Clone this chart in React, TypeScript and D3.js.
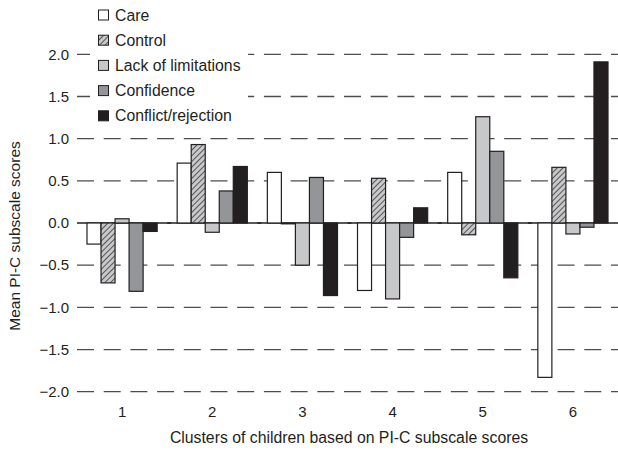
import * as d3 from "d3";
import { useEffect, useRef } from "react";

// chart size
const width = 618;
const height = 450;

// data
const clusters = ["1", "2", "3", "4", "5", "6"];
const subscales = ["Care", "Control", "Lack of limitations", "Confidence", "Conflict/rejection"];
const care = [-0.25, 0.71, 0.6, -0.8, 0.6, -1.83];
const control = [-0.71, 0.93, -0.01, 0.53, -0.14, 0.66];
const lackOfLimitations = [0.05, -0.11, -0.5, -0.9, 1.26, -0.13];
const confidence = [-0.81, 0.38, 0.54, -0.17, 0.85, -0.05];
const conflictRejection = [-0.1, 0.67, -0.86, 0.18, -0.65, 1.91];
const yTicks = [-2, -1.5, -1, -0.5, 0, 0.5, 1, 1.5, 2];

const seriesValues = [care, control, lackOfLimitations, confidence, conflictRejection];
const fills = ["#ffffff", "url(#hatch)", "#c7c8ca", "#939598", "#231f20"];
const ink = "#231f20";
const font = "'Liberation Sans', Arial, sans-serif";

const App = () => {
  const containerRef = useRef<HTMLDivElement>(null);

  useEffect(() => {
    const x = d3.scaleBand().domain(clusters).range([87, 608]).paddingInner(0.222).paddingOuter(0);
    const xs = d3.scaleBand().domain(subscales).range([0, x.bandwidth()]).padding(0);
    const y = d3.scaleLinear().domain([-2, 2]).range([391.7, 54.3]);

    const svg = d3
      .create("svg")
      .attr("width", width)
      .attr("height", height)
      .style("display", "block")
      .style("font-family", font);

    svg.append("rect").attr("width", width).attr("height", height).attr("fill", "#fff");

    // hatch pattern for "Control"
    const pat = svg
      .append("defs")
      .append("pattern")
      .attr("id", "hatch")
      .attr("patternUnits", "userSpaceOnUse")
      .attr("width", 4)
      .attr("height", 4)
      .attr("patternTransform", "rotate(45)");
    pat.append("rect").attr("width", 4).attr("height", 4).attr("fill", "#c7c8ca");
    pat.append("line").attr("x1", 0).attr("y1", 0).attr("x2", 0).attr("y2", 4)
      .attr("stroke", ink).attr("stroke-width", 1.4);

    // dashed gridlines (zero handled separately)
    svg.append("g")
      .selectAll("line")
      .data(yTicks.filter((d) => d !== 0))
      .join("line")
      .attr("x1", 77)
      .attr("x2", width)
      .attr("y1", (d) => y(d))
      .attr("y2", (d) => y(d))
      .attr("stroke", "#4d4d4f")
      .attr("stroke-width", 1.3)
      .attr("stroke-dasharray", "17 9.7");

    // y tick labels
    svg.append("g")
      .selectAll("text")
      .data(yTicks)
      .join("text")
      .attr("x", 69)
      .attr("y", (d) => y(d))
      .attr("dy", "0.35em")
      .attr("text-anchor", "end")
      .attr("font-size", 15)
      .attr("fill", ink)
      .text((d) => d3.format(".1f")(d).replace("-", "\u2013"));

    // bars
    const groups = svg.append("g")
      .selectAll("g")
      .data(clusters)
      .join("g")
      .attr("transform", (d) => `translate(${x(d)},0)`);

    groups.append("line")
      .attr("x1", -10)
      .attr("x2", x.bandwidth() + 14)
      .attr("y1", y(0))
      .attr("y2", y(0))
      .attr("stroke", ink)
      .attr("stroke-width", 1.3);

    groups.selectAll("rect")
      .data((c, i) => subscales.map((s, k) => ({ s, k, v: seriesValues[k][i] })))
      .join("rect")
      .attr("x", (d) => xs(d.s)!)
      .attr("width", xs.bandwidth())
      .attr("y", (d) => Math.min(y(d.v), y(0)))
      .attr("height", (d) => Math.abs(y(d.v) - y(0)))
      .attr("fill", (d) => fills[d.k])
      .attr("stroke", ink)
      .attr("stroke-width", 1.2);

    // x tick labels
    svg.append("g")
      .selectAll("text")
      .data(clusters)
      .join("text")
      .attr("x", (d) => x(d)! + x.bandwidth() / 2)
      .attr("y", 417)
      .attr("text-anchor", "middle")
      .attr("font-size", 15)
      .attr("fill", ink)
      .text((d) => d);

    // axis titles
    svg.append("text")
      .attr("x", 349)
      .attr("y", 443)
      .attr("text-anchor", "middle")
      .attr("font-size", 15.8)
      .attr("fill", ink)
      .text("Clusters of children based on PI-C subscale scores");

    svg.append("text")
      .attr("transform", "translate(20,236) rotate(-90)")
      .attr("text-anchor", "middle")
      .attr("font-size", 15.5)
      .attr("fill", ink)
      .text("Mean PI-C subscale scores");

    // legend
    const legend = svg.append("g");
    legend.append("rect").attr("x", 90).attr("y", 0).attr("width", 158).attr("height", 128).attr("fill", "#fff");
    const items = legend.selectAll("g.item")
      .data(subscales)
      .join("g")
      .attr("class", "item")
      .attr("transform", (d, i) => `translate(98,${15 + i * 25.2})`);
    items.append("rect")
      .attr("x", 0.5)
      .attr("y", -5)
      .attr("width", 10)
      .attr("height", 10)
      .attr("fill", (d, i) => fills[i])
      .attr("stroke", ink)
      .attr("stroke-width", 1);
    items.append("text")
      .attr("x", 17)
      .attr("dy", "0.35em")
      .attr("font-size", 15.8)
      .attr("fill", ink)
      .text((d) => d);

    if (containerRef.current && containerRef.current.children.length === 0) {
      containerRef.current.append(svg.node()!);
    }
  }, []);

  return <div ref={containerRef} style={{ position: "absolute", left: 0, top: 0 }}></div>;
};

export default App;
